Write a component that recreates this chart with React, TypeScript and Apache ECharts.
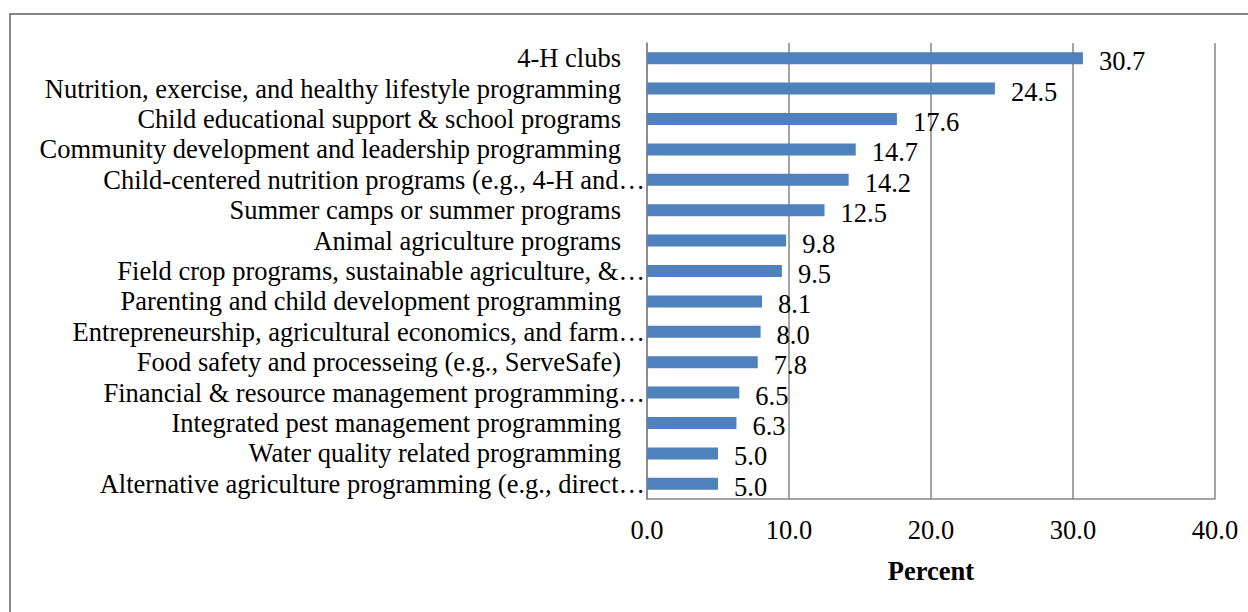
import React, { useEffect, useRef } from "react";
import * as echarts from "echarts";

const categories: string[] = [
  "4-H clubs",
  "Nutrition, exercise, and healthy lifestyle programming",
  "Child educational support & school programs",
  "Community development and leadership programming",
  "Child-centered nutrition programs (e.g., 4-H and…",
  "Summer camps or summer programs",
  "Animal agriculture programs",
  "Field crop programs, sustainable agriculture, &…",
  "Parenting and child development programming",
  "Entrepreneurship, agricultural economics, and farm…",
  "Food safety and processeing (e.g., ServeSafe)",
  "Financial & resource management programming…",
  "Integrated pest management programming",
  "Water quality related programming",
  "Alternative agriculture programming (e.g., direct…",
];

const percentValues: number[] = [30.7, 24.5, 17.6, 14.7, 14.2, 12.5, 9.8, 9.5, 8.1, 8.0, 7.8, 6.5, 6.3, 5.0, 5.0];

const xTicks: number[] = [0, 10, 20, 30, 40];

const FONT = "'Liberation Serif', 'Times New Roman', serif";
const FS = 26.5;

export default function App() {
  const ref = useRef<HTMLDivElement>(null);
  useEffect(() => {
    if (!ref.current) return;
    const chart = echarts.init(ref.current, null, { renderer: "svg" });
    chart.setOption({
      animation: false,
      backgroundColor: "#ffffff",
      textStyle: { fontFamily: FONT },
      graphic: [
        {
          type: "rect",
          shape: { x: 10, y: 14, width: 1300, height: 700 },
          style: { fill: "none", stroke: "#5f5f5f", lineWidth: 1.5 },
          silent: true,
        },
      ],
      grid: { left: 647, right: 33, top: 43, bottom: 113, containLabel: false },
      xAxis: {
        type: "value",
        min: xTicks[0],
        max: xTicks[xTicks.length - 1],
        interval: 10,
        name: "Percent",
        nameLocation: "middle",
        nameGap: 58,
        nameTextStyle: { fontFamily: FONT, fontSize: FS, fontWeight: "bold", color: "#000" },
        axisLine: { show: true, lineStyle: { color: "#868686", width: 1.5 } },
        axisTick: { show: false },
        splitLine: { show: true, lineStyle: { color: "#868686", width: 1.5 } },
        axisLabel: {
          fontFamily: FONT,
          fontSize: FS,
          color: "#000",
          margin: 17,
          formatter: (v: number) => v.toFixed(1),
        },
      },
      yAxis: {
        type: "category",
        data: categories,
        inverse: true,
        axisLine: { show: true, lineStyle: { color: "#868686", width: 1.5 } },
        axisTick: { show: false },
        splitLine: { show: false },
        axisLabel: {
          fontFamily: FONT,
          fontSize: FS,
          color: "#000",
          margin: 2,
          interval: 0,
          formatter: (v: string) => (v.endsWith("…") ? v : `${v}{sp| }`),
          rich: {
            sp: { width: 24, fontSize: FS, fontFamily: FONT },
          },
        },
      },
      series: [
        {
          type: "bar",
          data: percentValues,
          barWidth: 12,
          itemStyle: { color: "#4F81BD" },
          label: {
            show: true,
            position: "right",
            distance: 16,
            offset: [0, 3],
            fontFamily: FONT,
            fontSize: FS,
            color: "#000",
            formatter: (p: any) => Number(p.value).toFixed(1),
          },
        },
      ],
    });
    return () => chart.dispose();
  }, []);
  return (
    <div
      ref={ref}
      style={{ position: "absolute", left: 0, top: 0, width: 1248, height: 612 }}
    />
  );
}
